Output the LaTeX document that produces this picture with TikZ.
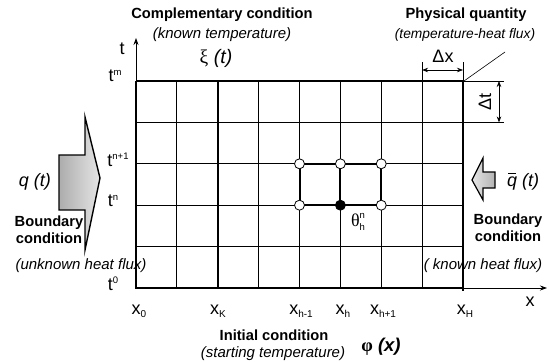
\documentclass[tikz,border=0pt]{standalone}
\usepackage{fontspec}
\setmainfont{Liberation Sans}
\newfontfamily\grk{Liberation Serif}
\usetikzlibrary{arrows.meta}
\newcommand{\supx}[2]{#1\raisebox{6.5pt}{\fontsize{9.5}{9.5}\selectfont #2}}
\newcommand{\subx}[2]{#1\raisebox{-3pt}{\fontsize{10}{10}\selectfont #2}}
\begin{document}
\begin{tikzpicture}[x=1pt,y=-1pt,
  thin grid/.style={line width=0.8pt},
  bord/.style={line width=2pt},
  head/.style={font=\fontsize{14.7}{17}\selectfont\bfseries, inner sep=0pt},
  sub/.style={font=\fontsize{15}{17}\selectfont\itshape, inner sep=0pt},
  tlab/.style={font=\fontsize{18}{19}\selectfont, inner sep=0pt},
  xlab/.style={font=\fontsize{18}{19}\selectfont, inner sep=0pt},
  opn/.style={circle, draw, fill=white, line width=0.8pt, minimum size=10pt, inner sep=0pt},
  cls/.style={circle, draw, fill=black, line width=0.8pt, minimum size=10pt, inner sep=0pt},
  tip/.style={-{Stealth[length=7pt,width=5pt]}},
  dtip/.style={{Stealth[length=6pt,width=4.5pt]}-{Stealth[length=6pt,width=4.5pt]}}]
\useasboundingbox (0,0) rectangle (550,362);
% grid thin lines
\foreach \i in {1,3,4,5,6,7} \draw[thin grid] ({136+\i*40.875},81) -- ({136+\i*40.875},288);
\foreach \j in {1,2,3,4} \draw[thin grid] (136,{81+\j*41.4}) -- (463,{81+\j*41.4});
% axes
\coordinate (O) at (136,288);
\coordinate (tT) at (136,38);
\coordinate (xT) at (547,288);
\draw[line width=0.8pt, tip] (O) -- (tT);
\draw[line width=0.8pt, tip] (O) -- (xT);
% borders
\draw[bord] (136,81) -- (463,81);
\draw[bord] (136,81) -- (136,288) -- (463,288);
\draw[bord] (463,81) -- (463,291);
\draw[bord] (217.75,81) -- (217.75,288);
% highlighted cell pair
\draw[line width=2pt] (299.5,163.8) rectangle (381.25,205.2);
\draw[line width=2pt] (340.4,163.8) -- (340.4,205.2);
\node[opn] (c1) at (299.5,163.8) {};
\node[opn] (c2) at (340.4,163.8) {};
\node[opn] (c3) at (381.25,163.8) {};
\node[opn] (c4) at (299.5,205.2) {};
\node[opn] (c6) at (381.25,205.2) {};
\node[cls] (c5) at (340.4,205.2) {};
\node[inner sep=0pt, font=\fontsize{18}{19}\selectfont\grk] (th) at (358,222) {θ\rlap{\raisebox{1.05ex}{\fontsize{9.5}{10}\selectfont\fontspec{Liberation Sans} n}}\raisebox{-0.5ex}{\fontsize{9.5}{10}\selectfont\fontspec{Liberation Sans} h}};
% dimensions
\coordinate (dxa) at (422.1,70);
\coordinate (dxb) at (463,70);
\draw[line width=0.6pt] (422.1,62) -- (422.1,81);
\draw[line width=0.6pt] (463,62) -- (463,81);
\draw[line width=0.7pt, dtip] (dxa) -- (dxb);
\node[xlab] (dx) at (443,56) {Δx};
\draw[line width=0.6pt] (463,81) -- (504,81);
\draw[line width=0.6pt] (463,122.4) -- (504,122.4);
\coordinate (dta) at (499,81);
\coordinate (dtb) at (499,122.4);
\draw[line width=0.7pt, dtip] (dta) -- (dtb);
\node[xlab, rotate=90] (dt) at (485,102) {Δt};
\coordinate (pq) at (505,52);
\draw[line width=0.6pt] (464,81) -- (pq);
% top texts
\node[head] (cc) at (222,15) {Complementary condition};
\node[sub] (kt) at (222,35) {(known temperature)};
\node[inner sep=0pt, font=\fontsize{19.5}{20}\selectfont] (xi) at (216,58) {{\grk ξ} \textit{(t)}};
\node[head] (pqn) at (466,15) {Physical quantity};
\node[sub, font=\fontsize{13.8}{16}\selectfont\itshape] (thf) at (465,35) {(temperature-heat flux)};
% t labels
\node[tlab] (tl) at (122,49) {t};
\node[tlab] (tm) at (115,76) {\supx{t}{m}};
\node[tlab] (tn1) at (118,160) {\supx{t}{n+1}};
\node[tlab] (tn) at (113,201) {\supx{t}{n}};
\node[tlab] (t0) at (113,284) {\supx{t}{0}};
% x labels
\node[xlab] (x0) at (139,311) {\subx{x}{0}};
\node[xlab] (xK) at (218,311) {\subx{x}{K}};
\node[xlab] (xh1) at (301,311) {\subx{x}{h-1}};
\node[xlab] (xh) at (343,311) {\subx{x}{h}};
\node[xlab] (xh2) at (383,311) {\subx{x}{h+1}};
\node[xlab] (xH) at (465,311) {\subx{x}{H}};
\node[xlab] (xl) at (530,302) {x};
% bottom texts
\node[head] (ic) at (274,335) {Initial condition};
\node[sub] (st) at (273,354) {(starting temperature)};
\node[inner sep=0pt, font=\fontsize{18.5}{19}\selectfont\bfseries] (phi) at (381,347) {{\grk φ} \textit{(x)}};
% left arrow
\shade[left color=gray!65, right color=gray!20, draw=black, line width=1.4pt, line join=miter]
  (59,155) -- (85,155) -- (85,117) -- (100,178) -- (85,250) -- (85,210) -- (59,210) -- cycle;
\node[inner sep=0pt, font=\fontsize{18}{19}\selectfont\itshape] (q) at (35,182) {q (t)};
\node[head, align=center] (bl) at (49,230) {Boundary\\condition};
\node[sub] (uh) at (81,266) {(unknown heat flux)};
% right arrow
\shade[left color=gray!20, right color=gray!60, draw=black, line width=1.2pt, line join=miter]
  (495,172) -- (483,172) -- (483,158) -- (472,180) -- (483,200) -- (483,188) -- (495,188) -- cycle;
\node[inner sep=0pt, font=\fontsize{18}{19}\selectfont\itshape] (qb) at (523,182) {\ooalign{q\cr\hidewidth\raisebox{0.72em}{\rule{0.42em}{0.7pt}}\hidewidth\cr} (t)};
\node[head, align=center] (br) at (508,228) {Boundary\\condition};
\node[sub] (kh) at (483,266) {( known heat flux)};
\end{tikzpicture}
\end{document}
